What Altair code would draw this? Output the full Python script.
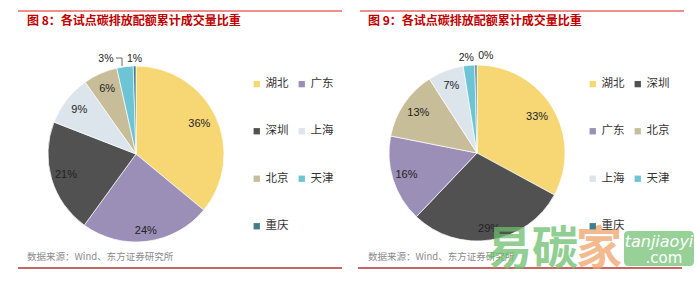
import altair as alt
import pandas as pd

# ---------------- data ----------------
left_title = "图 8：各试点碳排放配额累计成交量比重"
left_regions = ["湖北", "广东", "深圳", "上海", "北京", "天津", "重庆"]
left_values = [36.0, 24.0, 20.9, 9.3, 6.3, 3.0, 0.5]
left_labels = ["36%", "24%", "21%", "9%", "6%", "3%", "1%"]

right_title = "图 9：各试点碳排放配额累计成交量比重"
right_regions = ["湖北", "深圳", "广东", "北京", "上海", "天津", "重庆"]
right_values = [32.9, 29.2, 16.0, 12.8, 6.6, 2.1, 0.4]
right_labels = ["33%", "29%", "16%", "13%", "7%", "2%", "0%"]

source_text = "数据来源：Wind、东方证券研究所"

# ---------------- styles ----------------
palette = {
    "湖北": "#F7D774",
    "广东": "#9B8FB8",
    "深圳": "#515151",
    "上海": "#DCE4EC",
    "北京": "#C7BD99",
    "天津": "#6DC4D4",
    "重庆": "#3F7E8A",
}
CJK = "Noto Sans CJK SC"
LAT = "Liberation Sans"
PIE_R = 88
left_label_r = [70, 78, 73, 72, 71, 0, 0]
right_label_r = [70, 77, 74, 71, 72, 0, 0]


def pie(regions, values, labels, label_r, cx, cy, lx, ly, outside):
    n = len(regions)
    df = pd.DataFrame({
        "region": regions,
        "value": values,
        "ord": list(range(n)),
        "lr": label_r,
        "inside": [labels[i] if i not in outside else "" for i in range(n)],
    })
    color = alt.Color(
        "region:N",
        sort=regions,
        scale=alt.Scale(domain=regions, range=[palette[r] for r in regions]),
        legend=alt.Legend(
            orient="none", legendX=lx, legendY=ly, columns=2, title=None,
            direction="horizontal",
            symbolType="square", symbolSize=40, symbolStrokeWidth=0,
            labelFont=CJK, labelFontSize=11.5, labelColor="#333333",
            rowPadding=34.5, columnPadding=7, labelOffset=3, padding=0,
        ),
    )
    layers = [
        alt.Chart(df).mark_arc(radius=PIE_R, stroke="white", strokeWidth=0.7).encode(
            theta=alt.Theta("value:Q", stack=True), color=color, order=alt.Order("ord:Q"),
            x=alt.value(cx), y=alt.value(cy),
        ),
    ]

    def mid_chart(d):
        return (
            alt.Chart(d)
            .transform_window(cum="sum(value)", sort=[alt.SortField("ord", order="ascending")])
            .transform_joinaggregate(total="sum(value)")
            .transform_calculate(mid="(datum.cum - datum.value / 2) / datum.total * 2 * PI")
        )

    layers.append(
        mid_chart(df).mark_text(font=LAT, fontSize=11, color="#222222").encode(
            theta=alt.Theta("mid:Q", scale=None),
            radius=alt.Radius("lr:Q", scale=None),
            text="inside:N",
            x=alt.value(cx), y=alt.value(cy),
        )
    )
    for idx, (r, dx, dy) in outside.items():
        sub = df.copy()
        sub["txt"] = [labels[i] if i == idx else "" for i in range(n)]
        layers.append(
            mid_chart(sub).mark_text(font=LAT, fontSize=10.5, color="#222222",
                                     radius=r, dx=dx, dy=dy).encode(
                theta=alt.Theta("mid:Q", scale=None), text="txt:N",
                x=alt.value(cx), y=alt.value(cy),
            )
        )
    return layers


def label(text, x, y, size, color, weight="normal", font=CJK, align="left",
          opacity=1.0, style="normal"):
    return alt.Chart(pd.DataFrame({"t": [text]})).mark_text(
        font=font, fontSize=size, color=color, fontWeight=weight, fontStyle=style,
        align=align, baseline="middle", opacity=opacity,
    ).encode(x=alt.value(x), y=alt.value(y), text="t:N")


def hline(x1, x2, y, color, w):
    return alt.Chart(pd.DataFrame({"a": [0]})).mark_rule(color=color, strokeWidth=w).encode(
        x=alt.value(x1), x2=alt.value(x2), y=alt.value(y)
    )


def vline(x, y1, y2, color, w):
    return alt.Chart(pd.DataFrame({"a": [0]})).mark_rule(color=color, strokeWidth=w).encode(
        x=alt.value(x), y=alt.value(y1), y2=alt.value(y2)
    )


layers = []
# panel frames
layers += [
    hline(18, 342, 11, "#E0201C", 1.2),
    hline(360, 684, 11, "#E0201C", 1.2),
    hline(18, 342, 268, "#B8312F", 1.6),
    hline(358, 682, 268, "#B8312F", 1.6),
    label(left_title, 27, 21, 12, "#C00000", "bold"),
    label(right_title, 368, 21, 12, "#C00000", "bold"),
    label(source_text, 27, 257, 9.5, "#8A8A8A"),
    label(source_text, 368, 257, 9.5, "#8A8A8A"),
]
layers += pie(left_regions, left_values, left_labels, left_label_r, 136, 154, 251, 78,
              {5: (96, -18, 0), 6: (95, 0, 0)})
layers += pie(right_regions, right_values, right_labels, right_label_r, 477, 153, 587, 78,
              {5: (95, -2, 0), 6: (96, 10, -1)})

# leader line for the small 3% slice
layers += [
    hline(116, 122, 58, "#444444", 0.8),
    vline(122, 58, 66, "#444444", 0.8),
]

# watermark
layers += [
    label("易", 509, 250, 46, "#6DBE6D", "bold", opacity=0.75, align="center"),
    label("碳", 555, 250, 46, "#6DBE6D", "bold", opacity=0.75, align="center"),
    label("家", 599, 250, 46, "#EFA26A", "bold", opacity=0.75, align="center"),
    alt.Chart(pd.DataFrame({"a": [0]})).mark_rect(color="#86C986", opacity=0.85, cornerRadius=4).encode(
        x=alt.value(624), x2=alt.value(694), y=alt.value(231), y2=alt.value(266)
    ),
    label("tanjiaoyi", 659, 242, 16, "white", font="DejaVu Sans", align="center", style="italic"),
    label(".com", 664, 258, 15, "white", font="DejaVu Sans", align="center"),
]

chart = (
    alt.layer(*layers)
    .resolve_scale(theta="independent", color="independent")
    .properties(width=700, height=281, padding=0, autosize="none", background="white")
    .configure_view(stroke=None)
)

chart.save("out.html", embed_options={"renderer": "svg", "actions": False})
